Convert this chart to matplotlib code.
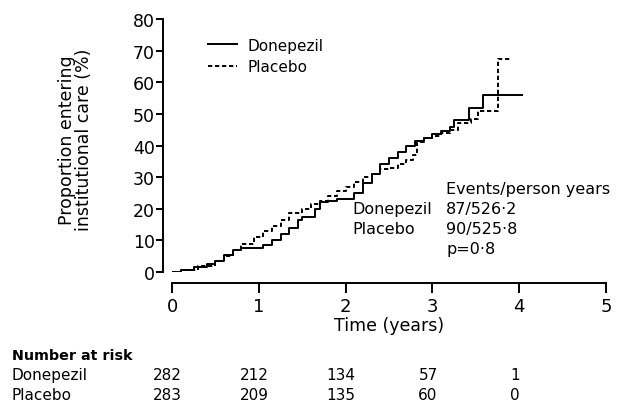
import matplotlib
matplotlib.use("Agg")
import matplotlib.pyplot as plt

plt.rcParams['font.family'] = ['DejaVu Sans']

# step curves (time in years, % entering care)
donepezil_t = [0, 0.1, 0.25, 0.4, 0.5, 0.6, 0.7, 0.8, 1.05, 1.15, 1.25, 1.35, 1.45,
               1.5, 1.65, 1.7, 1.8, 1.9, 2.1, 2.2, 2.3, 2.4, 2.5, 2.6, 2.7, 2.8,
               2.9, 3.0, 3.1, 3.2, 3.25, 3.42, 3.58, 4.03]
donepezil_y = [0, 0.5, 1.5, 2.5, 3.5, 5.5, 7, 7.5, 8.5, 10, 12, 14, 16.5,
               17.5, 20, 22, 22.5, 23, 25, 28, 31, 34, 36, 38, 40, 41.5,
               42.5, 43.5, 44.5, 46, 48, 52, 56, 56]

placebo_t = [0, 0.1, 0.3, 0.5, 0.6, 0.7, 0.8, 0.95, 1.05, 1.15, 1.25, 1.35, 1.5,
             1.6, 1.7, 1.8, 1.9, 2.0, 2.1, 2.2, 2.3, 2.4, 2.5, 2.6, 2.7, 2.78,
             2.82, 2.9, 3.0, 3.1, 3.2, 3.3, 3.45, 3.52, 3.76, 3.92]
placebo_y = [0, 0.5, 2, 3.5, 5, 7, 9, 11, 13, 14.5, 16.5, 18.5, 20,
             21.5, 22.5, 24, 25.5, 27, 28.5, 30, 31, 32.5, 33, 34, 35.5, 37,
             41, 42.5, 43, 44, 45, 47, 48.5, 51, 67.5, 67.5]

risk_times = [0, 1, 2, 3, 4]
risk_donepezil = [282, 212, 134, 57, 1]
risk_placebo = [283, 209, 135, 60, 0]

x_ticks = [0, 1, 2, 3, 4, 5]
y_ticks = [0, 10, 20, 30, 40, 50, 60, 70, 80]

fig = plt.figure(figsize=(6.18, 4.14), dpi=100)
ax = fig.add_axes([172 / 618, 1 - 273 / 414, 434 / 618, 253 / 414])

ax.step(donepezil_t, donepezil_y, where='post', color='black', lw=1.4,
        label='Donepezil')
ax.step(placebo_t, placebo_y, where='post', color='black', lw=1.4,
        linestyle=(0, (2.2, 1.4)), label='Placebo')

ax.set_xlim(0, 5)
ax.set_ylim(0, 80)
ax.set_xticks(x_ticks)
ax.set_yticks(y_ticks)

# detached axes like the original
for side in ['top', 'right']:
    ax.spines[side].set_visible(False)
ax.spines['left'].set_position(('outward', 6.5))
ax.spines['bottom'].set_position(('outward', 8))
ax.spines['left'].set_bounds(0, 80)
ax.spines['bottom'].set_bounds(0, 5)
ax.spines['left'].set_linewidth(1.4)
ax.spines['bottom'].set_linewidth(1.4)
ax.tick_params(axis='y', length=5, width=1.4, labelsize=12.5, pad=1)
ax.tick_params(axis='x', length=7, width=1.4, labelsize=13, pad=3)

ax.set_xlabel('Time (years)', fontsize=12.5, labelpad=1)
ax.set_ylabel('Proportion entering\ninstitutional care (%)', fontsize=12.5,
              linespacing=0.9)
ax.yaxis.set_label_coords(-0.182, 0.526)

ax.legend(loc='upper left', bbox_to_anchor=(0.069, 0.95), borderaxespad=0,
          frameon=False, fontsize=11, handlelength=1.9, handletextpad=0.7,
          labelspacing=0.4)

# events summary block
ax.text(3.16, 26.3, 'Events/person years', fontsize=11.5, va='center')
ax.text(2.08, 20.0, 'Donepezil', fontsize=11.5, va='center')
ax.text(3.16, 20.0, '87/526·2', fontsize=11.5, va='center')
ax.text(2.08, 13.7, 'Placebo', fontsize=11.5, va='center')
ax.text(3.16, 13.7, '90/525·8', fontsize=11.5, va='center')
ax.text(3.16, 7.4, 'p=0·8', fontsize=11.5, va='center')

# number at risk table
fig.text(12 / 618, 1 - 356 / 414, 'Number at risk', fontsize=10.3,
         fontweight='bold', va='center')
fig.text(12 / 618, 1 - 376 / 414, 'Donepezil', fontsize=11, va='center')
fig.text(12 / 618, 1 - 396 / 414, 'Placebo', fontsize=11, va='center')
trans = ax.get_xaxis_transform()
for t, d, p in zip(risk_times, risk_donepezil, risk_placebo):
    ax.text(t - 0.05, -103 / 253, str(d), transform=trans, ha='center',
            va='center', fontsize=11, clip_on=False)
    ax.text(t - 0.05, -123 / 253, str(p), transform=trans, ha='center',
            va='center', fontsize=11, clip_on=False)

fig.savefig('out.png', dpi=100)
